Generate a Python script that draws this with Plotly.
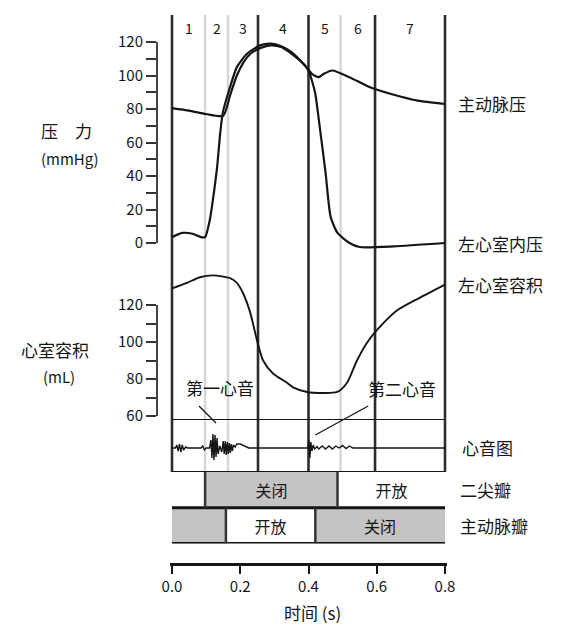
import plotly.graph_objects as go

# ---------------- data ----------------
phase_bounds = [0.0, 0.097, 0.164, 0.252, 0.40, 0.494, 0.595, 0.80]
phase_labels = ["1", "2", "3", "4", "5", "6", "7"]
major_bounds = [0.0, 0.252, 0.40, 0.595, 0.80]
minor_bounds = [0.097, 0.164, 0.494]

# aortic pressure (mmHg)
ao_t = [0.00, 0.05, 0.10, 0.15, 0.17, 0.19, 0.21, 0.23, 0.26, 0.29, 0.32, 0.35,
        0.39, 0.41, 0.43, 0.445, 0.47, 0.52, 0.58, 0.65, 0.72, 0.80]
ao_p = [80.5, 79, 77, 76, 88, 100, 108, 113, 116.5, 118, 117, 113,
        106, 101, 99, 101, 103, 99, 93, 88.5, 85, 83]

# left ventricular pressure (mmHg)
lv_t = [0.00, 0.03, 0.06, 0.085, 0.097, 0.111, 0.120, 0.132, 0.141, 0.149, 0.170,
        0.190, 0.220, 0.258, 0.290, 0.320, 0.350, 0.385, 0.40, 0.41, 0.42, 0.435,
        0.45, 0.465, 0.485, 0.52, 0.55, 0.65, 0.80]
lv_p = [3.5, 6, 5.5, 3.5, 3.5, 14, 26, 45, 65, 78, 93,
        105, 113, 118, 119, 117.5, 114, 107, 103, 97, 89, 66,
        42, 15.5, 6, 0, -2.4, -2, 0]

# left ventricular volume (mL)
vol_t = [0.00, 0.044, 0.082, 0.12, 0.17, 0.19, 0.208, 0.229, 0.249, 0.267, 0.296,
         0.337, 0.355, 0.396, 0.484, 0.513, 0.542, 0.571, 0.601, 0.659, 0.727, 0.80]
vol_v = [129, 132, 135, 136, 134.5, 132, 126.5, 116, 101, 90, 83,
         78, 75.5, 73, 73, 78, 90, 99.5, 106.5, 117, 124, 131]

# phonocardiogram (arbitrary amplitude)
hs_t = [0.000, 0.010, 0.014, 0.018, 0.022, 0.026, 0.030, 0.034, 0.040, 0.046,
        0.085, 0.090, 0.095, 0.100, 0.110, 0.114, 0.117, 0.120, 0.123, 0.126,
        0.129, 0.132, 0.135, 0.140, 0.146, 0.150, 0.153, 0.156, 0.159, 0.162,
        0.165, 0.168, 0.171, 0.174, 0.177, 0.180, 0.185, 0.190, 0.200, 0.225,
        0.398, 0.401, 0.404, 0.407, 0.410, 0.414, 0.418, 0.425, 0.430, 0.440,
        0.450, 0.460, 0.470, 0.480, 0.490, 0.500, 0.510, 0.520, 0.530, 0.540, 0.80]
hs_a = [0, 0, 3, -3, 4, -4, 3, -2, 1, 0,
        0, 2, -2, 0, 0, 8, -10, 14, -12, 13,
        -9, 10, -6, 2, -4, 7, -6, 7, -7, 6,
        -6, 5, -5, 4, -3, 3, 1, 4, 4, 0,
        0, 8, -10, 6, -3, 3, -1, 1.5, -1, 2,
        -1, 2, -1, 2, 0, 2.5, -0.5, 2, 0, 0, 0]

# valves
mitral_start = [0.097, 0.485]
mitral_end = [0.485, 0.80]
mitral_text = ["关闭", "开放"]
mitral_closed = [True, False]
aortic_start = [0.0, 0.158, 0.42]
aortic_end = [0.158, 0.42, 0.80]
aortic_text = ["", "开放", "关闭"]
aortic_closed = [True, False, True]

x_ticks = [0.0, 0.2, 0.4, 0.6, 0.8]
x_ticktext = ["0.0", "0.2", "0.4", "0.6", "0.8"]
p_ticks = [0, 20, 40, 60, 80, 100, 120]
v_ticks = [60, 80, 100, 120]

# ---------------- layout helpers (page pixel -> paper) ----------------
OFF = 8                       # default body margin of the html page
W, H = 572 - OFF, 630 - OFF   # figure size so that it fits the window exactly

def fx(px):
    return (px - OFF) / W

def fy(py):
    return 1 - (py - OFF) / H

X0, X1 = 172, 445            # page px of t=0 and t=0.8
S = (X1 - X0) / 0.8
def t_at(px):
    return (px - X0) / S

P0, P120 = 243, 42           # page px of 0 and 120 mmHg
PS = (P0 - P120) / 120
V60, V120 = 416, 305         # page px of 60 and 120 mL
VS = (V60 - V120) / 60

FONT = "Noto Sans CJK SC, Noto Sans, sans-serif"
INK = "#151515"
GRAY = "#c4c4c4"
CJK = 17

fig = go.Figure()

# curves
fig.add_trace(go.Scatter(x=ao_t, y=ao_p, mode="lines", xaxis="x", yaxis="y2",
                         line=dict(color=INK, width=2.2, shape="spline", smoothing=0.6),
                         hoverinfo="skip", showlegend=False))
fig.add_trace(go.Scatter(x=lv_t, y=lv_p, mode="lines", xaxis="x", yaxis="y2",
                         line=dict(color=INK, width=2.2, shape="spline", smoothing=0.6),
                         hoverinfo="skip", showlegend=False))
fig.add_trace(go.Scatter(x=vol_t, y=vol_v, mode="lines", xaxis="x", yaxis="y4",
                         line=dict(color=INK, width=1.9, shape="spline", smoothing=0.7),
                         hoverinfo="skip", showlegend=False))
fig.add_trace(go.Scatter(x=hs_t, y=hs_a, mode="lines", xaxis="x", yaxis="y5",
                         line=dict(color=INK, width=1.4),
                         hoverinfo="skip", showlegend=False))

# valve bars
fig.add_trace(go.Bar(orientation="h", y=[1] * len(mitral_start),
                     base=mitral_start,
                     x=[e - s for s, e in zip(mitral_start, mitral_end)],
                     marker=dict(color=[GRAY if c else "white" for c in mitral_closed],
                                 line=dict(width=0)),
                     width=1, text=mitral_text, textposition="inside",
                     insidetextanchor="middle", textangle=0, constraintext="none",
                     textfont=dict(size=16, color=INK, family=FONT),
                     xaxis="x", yaxis="y6", hoverinfo="skip", showlegend=False))
fig.add_trace(go.Bar(orientation="h", y=[0] * len(aortic_start),
                     base=aortic_start,
                     x=[e - s for s, e in zip(aortic_start, aortic_end)],
                     marker=dict(color=[GRAY if c else "white" for c in aortic_closed],
                                 line=dict(width=0)),
                     width=1, text=aortic_text, textposition="inside",
                     insidetextanchor="middle", textangle=0, constraintext="none",
                     textfont=dict(size=16, color=INK, family=FONT),
                     xaxis="x", yaxis="y6", hoverinfo="skip", showlegend=False))

# dummy traces for the visible value axes
fig.add_trace(go.Scatter(x=[None], y=[None], xaxis="x", yaxis="y", showlegend=False))
fig.add_trace(go.Scatter(x=[None], y=[None], xaxis="x", yaxis="y3", showlegend=False))

shapes = []
for t in minor_bounds:
    shapes.append(dict(type="line", xref="x", yref="paper", x0=t, x1=t,
                       y0=fy(472), y1=fy(15), line=dict(color="#d6d6d6", width=2.5),
                       layer="below"))
for t in major_bounds:
    shapes.append(dict(type="line", xref="x", yref="paper", x0=t, x1=t,
                       y0=fy(472), y1=fy(15), line=dict(color="#2c2c2c", width=2.6),
                       layer="below"))
# heart sound panel box
for yy in [29, -24]:
    shapes.append(dict(type="line", xref="x", yref="y5", x0=0, x1=0.8, y0=yy, y1=yy,
                       line=dict(color=INK, width=2)))
# valve row bottoms
for yy in [0.5, -0.5]:
    shapes.append(dict(type="line", xref="x", yref="y6", x0=0, x1=0.8, y0=yy, y1=yy,
                       line=dict(color=INK, width=3)))
# valve transitions
for t in [mitral_start[0], mitral_end[0]]:
    shapes.append(dict(type="line", xref="x", yref="y6", x0=t, x1=t, y0=0.5, y1=1.5,
                       line=dict(color="#333", width=2.5)))
for t in [aortic_end[0], aortic_end[1]]:
    shapes.append(dict(type="line", xref="x", yref="y6", x0=t, x1=t, y0=-0.5, y1=0.5,
                       line=dict(color="#333", width=2.5)))
# pointer lines for heart sounds
shapes.append(dict(type="line", xref="x", yref="paper", x0=0.079, x1=0.129,
                   y0=fy(406), y1=fy(423), line=dict(color=INK, width=1.3)))
shapes.append(dict(type="line", xref="x", yref="paper", x0=0.575, x1=0.42,
                   y0=fy(406), y1=fy(435), line=dict(color=INK, width=1.3)))

ann = []
def txt(text, x, y, xref="paper", yref="paper", xanchor="center", size=CJK):
    ann.append(dict(text=text, x=x, y=y, xref=xref, yref=yref, xanchor=xanchor,
                    yanchor="middle", showarrow=False,
                    font=dict(size=size, color=INK, family=FONT)))

for i, lab in enumerate(phase_labels):
    txt(lab, (phase_bounds[i] + phase_bounds[i + 1]) / 2, fy(28), xref="x", size=14)

txt("主动脉压", fx(456), ao_p[-1], yref="y2", xanchor="left")
txt("左心室内压", fx(456), lv_p[-1], yref="y2", xanchor="left")
txt("左心室容积", fx(456), vol_v[-1], yref="y4", xanchor="left")
txt("心音图", fx(460), 0, yref="y5", xanchor="left")
txt("二尖瓣", fx(458), 1, yref="y6", xanchor="left")
txt("主动脉瓣", fx(458), 0, yref="y6", xanchor="left")

txt("压　力", fx(66), fy(130))
txt("(mmHg)", fx(70), fy(158), size=15)
txt("心室容积", fx(55), fy(350))
txt("(mL)", fx(59), fy(376), size=15)

txt("第一心音", fx(220), fy(387))
txt("第二心音", fx(402), fy(388))
txt("时间 (s)", fx(312), fy(612))

axis_common = dict(showgrid=False, zeroline=False, fixedrange=True, automargin=False)

fig.update_layout(
    template="none",
    width=W, height=H, autosize=False, showlegend=False,
    margin=dict(l=0, r=0, t=0, b=0, pad=0, autoexpand=False),
    paper_bgcolor="white", plot_bgcolor="rgba(0,0,0,0)",
    font=dict(family=FONT, color=INK),
    barmode="overlay", bargap=0,
    shapes=shapes, annotations=ann,
    xaxis=dict(domain=[fx(170), fx(447)], range=[t_at(170), t_at(447)],
               anchor="free", position=fy(564), tickvals=x_ticks, ticktext=x_ticktext,
               ticks="outside", ticklen=8, tickwidth=2, tickcolor=INK,
               showline=True, linewidth=2.5, linecolor=INK,
               tickfont=dict(size=15, color=INK), **axis_common),
    yaxis=dict(domain=[fy(P0), fy(P120)], range=[0, 120], anchor="free",
               position=fx(157), side="left", tickvals=p_ticks,
               ticks="outside", ticklen=10, tickwidth=2, tickcolor="#333",
               minor=dict(dtick=10, tick0=0, ticks="outside", ticklen=10,
                          tickwidth=2, tickcolor="#333", showgrid=False),
               showline=True, linewidth=2, linecolor="#444",
               tickfont=dict(size=15, color=INK), **axis_common),
    yaxis2=dict(domain=[fy(252), fy(12)],
                range=[-(252 - P0) / PS, 120 + (P120 - 12) / PS],
                anchor="x", visible=False, **axis_common),
    yaxis3=dict(domain=[fy(V60), fy(V120)], range=[60, 120], anchor="free",
                position=fx(157), side="left", tickvals=v_ticks,
                ticks="outside", ticklen=10, tickwidth=2, tickcolor="#333",
                minor=dict(dtick=10, tick0=0, ticks="outside", ticklen=10,
                           tickwidth=2, tickcolor="#333", showgrid=False),
                showline=True, linewidth=2, linecolor="#444",
                tickfont=dict(size=15, color=INK), **axis_common),
    yaxis4=dict(domain=[fy(425), fy(262)],
                range=[60 - (425 - V60) / VS, 120 + (V120 - 262) / VS],
                anchor="x", visible=False, **axis_common),
    yaxis5=dict(domain=[fy(472), fy(419)], range=[-(472 - 448), 448 - 419],
                anchor="x", visible=False, **axis_common),
    yaxis6=dict(domain=[fy(543.5), fy(472)], range=[-0.5, 1.5],
                anchor="x", visible=False, **axis_common),
)

fig.write_html("out.html")
